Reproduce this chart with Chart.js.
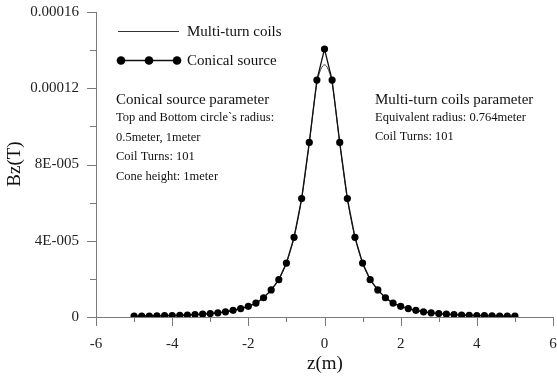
<!DOCTYPE html>
<html>
<head>
<meta charset="utf-8">
<script src="https://cdn.jsdelivr.net/npm/chart.js@4/dist/chart.umd.min.js"></script>
<style>
  html, body { margin: 0; padding: 0; background: #fff; }
  #wrap { width: 557px; height: 378px; }
</style>
</head>
<body>
<div id="wrap"><canvas id="chart" width="557" height="378"></canvas></div>
<script>
// z positions of the conical source samples (m)
const zValues = [
  -5.0, -4.8, -4.6, -4.4, -4.2, -4.0, -3.8, -3.6, -3.4, -3.2,
  -3.0, -2.8, -2.6, -2.4, -2.2, -2.0, -1.8, -1.6, -1.4, -1.2,
  -1.0, -0.8, -0.6, -0.4, -0.2, 0.0, 0.2, 0.4, 0.6, 0.8,
  1.0, 1.2, 1.4, 1.6, 1.8, 2.0, 2.2, 2.4, 2.6, 2.8,
  3.0, 3.2, 3.4, 3.6, 3.8, 4.0, 4.2, 4.4, 4.6, 4.8, 5.0
];
// Bz of conical source (T)
const conicalBz = [
  0.41e-6, 0.46e-6, 0.52e-6, 0.59e-6, 0.68e-6, 0.78e-6, 0.90e-6, 1.05e-6, 1.25e-6, 1.5e-6,
  1.8e-6, 2.2e-6, 2.7e-6, 3.5e-6, 4.4e-6, 5.6e-6, 7.3e-6, 10.1e-6, 14.2e-6, 19.6e-6,
  28.3e-6, 41.8e-6, 62.1e-6, 91.6e-6, 124.3e-6, 140.6e-6, 124.3e-6, 91.6e-6, 62.1e-6, 41.8e-6,
  28.3e-6, 19.6e-6, 14.2e-6, 10.1e-6, 7.3e-6, 5.6e-6, 4.4e-6, 3.5e-6, 2.7e-6, 2.2e-6,
  1.8e-6, 1.5e-6, 1.25e-6, 1.05e-6, 0.90e-6, 0.78e-6, 0.68e-6, 0.59e-6, 0.52e-6, 0.46e-6, 0.41e-6
];
// multi-turn coils curve
const coilZ = [
  -5.0, -4.6, -4.2, -3.8, -3.4, -3.0, -2.6, -2.2, -1.8, -1.6, -1.4, -1.2,
  -1.0, -0.8, -0.6, -0.4, -0.2, -0.1, 0.0, 0.1, 0.2, 0.4, 0.6, 0.8,
  1.0, 1.2, 1.4, 1.6, 1.8, 2.2, 2.6, 3.0, 3.4, 3.8, 4.2, 4.6, 5.0
];
const coilBz = [
  0.41e-6, 0.52e-6, 0.68e-6, 0.90e-6, 1.25e-6, 1.8e-6, 2.7e-6, 4.4e-6, 7.3e-6, 10.1e-6, 14.2e-6, 19.6e-6,
  28.3e-6, 41.8e-6, 62.0e-6, 91.2e-6, 122.5e-6, 129.8e-6, 132.3e-6, 129.8e-6, 122.5e-6, 91.2e-6, 62.0e-6, 41.8e-6,
  28.3e-6, 19.6e-6, 14.2e-6, 10.1e-6, 7.3e-6, 4.4e-6, 2.7e-6, 1.8e-6, 1.25e-6, 0.90e-6, 0.68e-6, 0.52e-6, 0.41e-6
];
const xTickLabels = ["-6", "-4", "-2", "0", "2", "4", "6"];
const yTickLabels = ["0", "4E-005", "8E-005", "0.00012", "0.00016"];
const seriesNames = ["Multi-turn coils", "Conical source"];
const conicalNotes = ["Top and Bottom circle`s radius:", "0.5meter, 1meter", "Coil Turns: 101", "Cone height: 1meter"];
const coilNotes = ["Equivalent radius: 0.764meter", "Coil Turns: 101"];

const SERIF = "'Liberation Serif', 'Times New Roman', serif";
const AXIS_COLOR = "#7a7a7a";

// minor/major tick marks, axis titles, legend and notes
const decorations = {
  id: "decorations",
  afterDraw(chart) {
    const ctx = chart.ctx;
    const xs = chart.scales.x, ys = chart.scales.y;
    const area = chart.chartArea;
    ctx.save();
    ctx.strokeStyle = AXIS_COLOR;
    ctx.lineWidth = 1;
    xs.ticks.forEach((t, i) => {
      const px = Math.round(xs.getPixelForValue(t.value)) + 0.5;
      const len = i % 2 === 0 ? 9 : 5;
      ctx.beginPath();
      ctx.moveTo(px, area.bottom);
      ctx.lineTo(px, area.bottom + len);
      ctx.stroke();
    });
    ys.ticks.forEach((t, i) => {
      const py = Math.round(ys.getPixelForValue(t.value)) + 0.5;
      const len = i % 2 === 0 ? 9 : 6;
      ctx.beginPath();
      ctx.moveTo(area.left, py);
      ctx.lineTo(area.left - len, py);
      ctx.stroke();
    });

    ctx.fillStyle = "#111";
    ctx.font = "19px " + SERIF;
    ctx.textAlign = "center";
    ctx.textBaseline = "middle";
    ctx.fillText("z(m)", 325, 364);
    ctx.save();
    ctx.translate(15, 164);
    ctx.rotate(-Math.PI / 2);
    ctx.fillText("Bz(T)", 0, 0);
    ctx.restore();

    // legend
    const ds = chart.data.datasets;
    ctx.textAlign = "left";
    ctx.font = "15px " + SERIF;
    ctx.strokeStyle = ds[0].borderColor;
    ctx.lineWidth = ds[0].borderWidth;
    ctx.beginPath();
    ctx.moveTo(118, 31.5);
    ctx.lineTo(179, 31.5);
    ctx.stroke();
    ctx.fillText(seriesNames[0], 187, 32);
    ctx.strokeStyle = ds[1].borderColor;
    ctx.lineWidth = ds[1].borderWidth;
    ctx.beginPath();
    ctx.moveTo(121, 60.5);
    ctx.lineTo(177, 60.5);
    ctx.stroke();
    ctx.fillStyle = ds[1].pointBackgroundColor;
    [121, 149, 177].forEach(cx => {
      ctx.beginPath();
      ctx.arc(cx, 60.5, 4.3, 0, Math.PI * 2);
      ctx.fill();
    });
    ctx.fillStyle = "#111";
    ctx.fillText(seriesNames[1], 187, 61);

    // parameter notes
    ctx.font = "15px " + SERIF;
    ctx.fillText("Conical source parameter", 116, 100);
    ctx.fillText("Multi-turn coils parameter", 375, 100);
    ctx.font = "12.5px " + SERIF;
    conicalNotes.forEach((s, i) => ctx.fillText(s, 116, 118 + i * 19.5));
    coilNotes.forEach((s, i) => ctx.fillText(s, 375, 118 + i * 19));
    ctx.restore();
  }
};

new Chart(document.getElementById("chart"), {
  type: "line",
  data: {
    datasets: [
      {
        label: seriesNames[0],
        data: coilZ.map((z, i) => ({ x: z, y: coilBz[i] })),
        borderColor: "#333",
        borderWidth: 1,
        pointRadius: 0,
        cubicInterpolationMode: "monotone",
        order: 1
      },
      {
        label: seriesNames[1],
        data: zValues.map((z, i) => ({ x: z, y: conicalBz[i] })),
        borderColor: "#111",
        borderWidth: 1.3,
        pointRadius: 3.6,
        pointBackgroundColor: "#000",
        pointBorderColor: "#000",
        pointBorderWidth: 0,
        tension: 0,
        order: 0
      }
    ]
  },
  options: {
    responsive: false,
    animation: false,
    events: [],
    layout: { padding: { top: 12, right: 1, left: 0, bottom: 0 } },
    plugins: {
      legend: { display: false },
      tooltip: { enabled: false }
    },
    scales: {
      x: {
        type: "linear",
        min: -6,
        max: 6,
        grid: { display: false, drawTicks: false },
        border: { display: true, color: AXIS_COLOR, width: 1 },
        ticks: {
          stepSize: 1,
          autoSkip: false,
          maxRotation: 0,
          padding: 18,
          color: "#222",
          font: { family: SERIF, size: 15 },
          callback: (v) => (Math.round(v) % 2 === 0 ? xTickLabels[(Math.round(v) + 6) / 2] : "")
        },
        afterFit(scale) {
          scale.height = 61;
          scale.paddingLeft = 0;
          scale.paddingRight = 0;
        }
      },
      y: {
        type: "linear",
        min: 0,
        max: 0.00016,
        grid: { display: false, drawTicks: false },
        border: { display: true, color: AXIS_COLOR, width: 1 },
        ticks: {
          stepSize: 0.00002,
          autoSkip: false,
          padding: 17,
          color: "#222",
          font: { family: SERIF, size: 15 },
          callback: (v) => {
            const k = Math.round(v / 0.00002);
            return k % 2 === 0 ? yTickLabels[k / 2] : "";
          }
        },
        afterFit(scale) {
          scale.width = 96;
          scale.paddingTop = 0;
          scale.paddingBottom = 0;
        }
      }
    }
  },
  plugins: [decorations]
});
</script>
</body>
</html>
